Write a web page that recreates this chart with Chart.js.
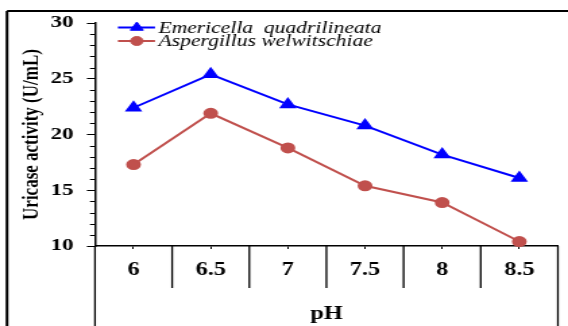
<!DOCTYPE html>
<html>
<head>
<meta charset="utf-8">
<script src="https://cdn.jsdelivr.net/npm/chart.js@4"></script>
<style>
  html, body { margin: 0; padding: 0; background: #fff; overflow: hidden; }
  /* оригинал растянут по горизонтали ~1.35 раза: рисуем узко и растягиваем */
  #wrap { width: 421px; height: 326px; position: relative; transform: scaleX(1.3492); transform-origin: 0 0; }
</style>
</head>
<body>
<div id="wrap"><canvas id="uricaseChart"></canvas></div>
<script>
// данные с графика
const phLabels = ['6', '6.5', '7', '7.5', '8', '8.5'];
const emericella = [22.4, 25.4, 22.7, 20.8, 18.2, 16.1];
const aspergillus = [17.3, 21.9, 18.8, 15.4, 13.9, 10.4];
const seriesNames = ['Emericella  quadrilineata', 'Aspergillus welwitschiae'];

// рамка, таблица под осью X, мелкие деления и легенда
const framePlugin = {
    id: 'frame',
    afterDraw(chart) {
        const c = chart.ctx;
        const area = chart.chartArea;
        const x = chart.scales.x;
        const y = chart.scales.y;
        const H = chart.height;
        c.save();
        c.strokeStyle = '#000';

        // внешняя рамка (верх и левый край)
        c.lineWidth = 2;
        c.beginPath();
        c.moveTo(5.2, 11); c.lineTo(chart.width, 11);
        c.moveTo(5.2, 11); c.lineTo(5.2, H);
        c.stroke();

        // вертикальные линии таблицы
        c.lineWidth = 1.3;
        c.beginPath();
        c.moveTo(area.left, area.bottom); c.lineTo(area.left, H);
        c.moveTo(area.right, area.bottom); c.lineTo(area.right, H);
        for (let i = 0; i < phLabels.length - 1; i++) {
            const px = (x.getPixelForValue(i) + x.getPixelForValue(i + 1)) / 2;
            c.moveTo(px, area.bottom); c.lineTo(px, area.bottom + 42);
        }
        c.stroke();

        // мелкие деления оси Y
        c.lineWidth = 1;
        c.beginPath();
        for (let v = y.min; v <= y.max; v++) {
            if (v % 5 === 0) continue;
            const py = Math.round(y.getPixelForValue(v)) + 0.5;
            c.moveTo(area.left - 3.7, py); c.lineTo(area.left, py);
        }
        c.stroke();

        // легенда: линия + маркер + курсивная подпись
        chart.data.datasets.forEach((ds, i) => {
            const ly = area.top + 4.5 + i * 13.5;
            const lx = area.left + 17;
            c.strokeStyle = ds.borderColor;
            c.fillStyle = ds.backgroundColor;
            c.lineWidth = 2;
            c.beginPath();
            c.moveTo(lx, ly); c.lineTo(lx + 27.5, ly);
            c.stroke();
            c.lineWidth = 1;
            Chart.helpers.drawPoint(c, {
                pointStyle: ds.pointStyle,
                radius: ds.pointRadius,
                rotation: 0,
                borderWidth: 1
            }, lx + 14, ly);
            c.fillStyle = '#000';
            c.font = 'italic 16px "Liberation Serif"';
            c.textBaseline = 'middle';
            c.fillText(ds.label, lx + 30, ly + 1);
        });
        c.restore();
    }
};

const ctx = document.getElementById('uricaseChart').getContext('2d');
new Chart(ctx, {
    type: 'line',
    data: {
        labels: phLabels,
        datasets: [
            {
                label: seriesNames[0], data: emericella,
                borderColor: '#0000ff', backgroundColor: '#0000ff',
                borderWidth: 2, pointStyle: 'triangle', pointRadius: 5.5,
                tension: 0, clip: false
            },
            {
                label: seriesNames[1], data: aspergillus,
                borderColor: '#c0504d', backgroundColor: '#c0504d',
                borderWidth: 2, pointStyle: 'circle', pointRadius: 4.5,
                tension: 0, clip: false
            }
        ]
    },
    options: {
        responsive: true,
        maintainAspectRatio: false,
        animation: false,
        layout: { padding: { top: 23, right: 2, left: 0, bottom: 0 } },
        scales: {
            x: {
                offset: true,
                grid: { drawOnChartArea: false, offset: false, tickLength: 3, color: '#000' },
                border: { color: '#000', width: 1.5 },
                ticks: { color: '#000', padding: 11, font: { family: 'Liberation Serif', weight: 'bold', size: 18 } },
                title: {
                    display: true, text: 'pH', color: '#000',
                    padding: { top: 0, bottom: 1 },
                    font: { family: 'Liberation Serif', weight: 'bold', size: 18 }
                },
                afterFit: s => { s.height = 80; }
            },
            y: {
                min: 10, max: 30,
                grid: { drawOnChartArea: false, tickLength: 6, color: '#000' },
                border: { color: '#000', width: 1.5 },
                ticks: { stepSize: 5, color: '#000', padding: 10, font: { family: 'Liberation Serif', weight: 'bold', size: 17 } },
                title: {
                    display: true, text: 'Uricase activity (U/mL)', color: '#000',
                    padding: { top: 13.5, bottom: 0 },
                    font: { family: 'Liberation Serif', weight: 'bold', size: 17 }
                },
                afterFit: s => { s.width = 70.4; }
            }
        },
        plugins: { legend: { display: false }, tooltip: { enabled: false } }
    },
    plugins: [framePlugin]
});
</script>
</body>
</html>
